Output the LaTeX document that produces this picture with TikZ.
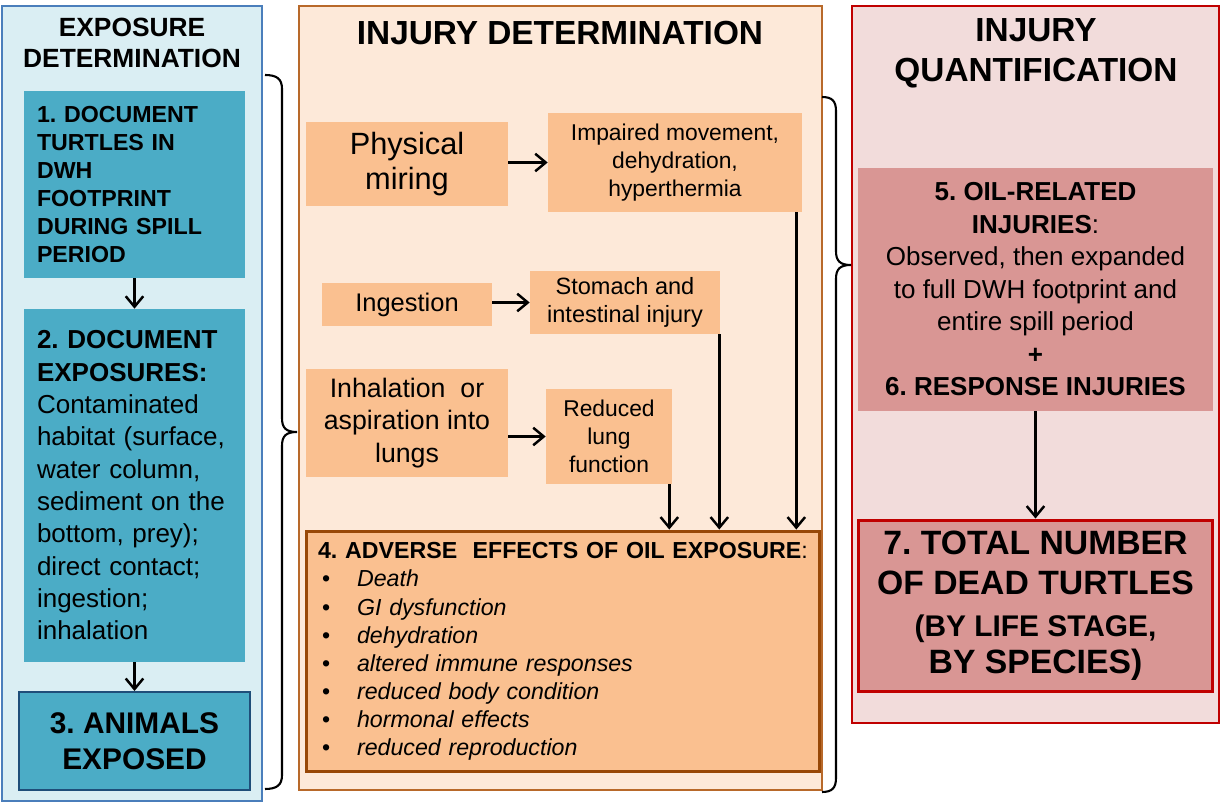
\documentclass[tikz,border=0pt]{standalone}
\usepackage{fontspec}
\setmainfont{Liberation Sans}
\usetikzlibrary{arrows.meta}
\definecolor{lbfill}{HTML}{DAEEF3}
\definecolor{lbdraw}{HTML}{4A7EBB}
\definecolor{teal1}{HTML}{4BACC6}
\definecolor{navy1}{HTML}{1F4E79}
\definecolor{pfill}{HTML}{FDE9D9}
\definecolor{pdraw}{HTML}{B8692A}
\definecolor{peach}{HTML}{FAC090}
\definecolor{brown1}{HTML}{984807}
\definecolor{rfill}{HTML}{F2DCDB}
\definecolor{rdraw}{HTML}{C00000}
\definecolor{rose}{HTML}{D99694}
\newcommand\fs[2]{\fontsize{#1}{#2}\selectfont}
\newcommand\bul[1]{\hspace*{0.08cm}\makebox[0.7cm][l]{•}\textit{#1}}
\hyphenpenalty=10000
\begin{document}
\frenchspacing
\begin{tikzpicture}[x=0.02cm,y=-0.02cm,
  panel/.style={draw, line width=0.8pt, inner sep=0pt},
  tbox/.style={fill=teal1, inner sep=0pt},
  pbox/.style={fill=peach, inner sep=0pt, align=center},
  rbox/.style={fill=rose, inner sep=0pt, align=center},
  title/.style={font=\bfseries, align=center, inner sep=0pt},
  arr/.style={-{Straight Barb[length=6pt,width=10pt,line width=1.4pt]}, line width=1.4pt},
  bline/.style={line width=1.2pt}]
\useasboundingbox (0,0) rectangle (1225,803);

% panels
\node[panel, draw=lbdraw, fill=lbfill, minimum width=5.2cm, minimum height=15.9cm] (lp) at (132,403.5) {};
\node[panel, draw=pdraw, fill=pfill, minimum width=10.46cm, minimum height=15.68cm] (mp) at (560.5,398) {};
\node[panel, draw=rdraw, fill=rfill, minimum width=7.34cm, minimum height=14.34cm] (rp) at (1035.5,364.5) {};

% titles
\node[title, font=\bfseries\fs{15}{17.3}] (lt) at (132,43) {EXPOSURE\\DETERMINATION};
\node[title, font=\bfseries\fs{19}{22}] (mt) at (560,33) {INJURY DETERMINATION};
\node[title, font=\bfseries\fs{19}{22.7}] (rt) at (1036,53) {INJURY\\QUANTIFICATION};

% left column
\node[tbox, minimum width=4.42cm, minimum height=3.74cm, text width=3.9cm, align=left, font=\bfseries\fs{13.2}{16}] (b1) at (134.5,184.5)
 {1. DOCUMENT\\TURTLES IN\\DWH\\FOOTPRINT\\DURING SPILL\\PERIOD};
\node[tbox, minimum width=4.42cm, minimum height=7.06cm, text width=3.9cm, align=left, font=\fs{14.8}{18.4}] (b2) at (134.5,485.5)
 {\textbf{2. DOCUMENT}\\\textbf{EXPOSURES:}\\Contaminated\\habitat (surface,\\water column,\\sediment on the\\bottom, prey);\\direct contact;\\ingestion;\\inhalation};
\node[tbox, draw=navy1, line width=1.2pt, minimum width=4.62cm, minimum height=1.96cm, align=center, font=\bfseries\fs{17}{20.4}] (b3) at (134.5,741)
 {3. ANIMALS\\EXPOSED};
\draw[arr] (b1.south) -- (b2.north);
\draw[arr] (b2.south) -- (b3.north);

% middle column
\node[pbox, minimum width=4.04cm, minimum height=1.68cm, font=\fs{17.5}{20.4}] (phys) at (407,164) {Physical\\miring};
\node[pbox, minimum width=5.08cm, minimum height=1.98cm, font=\fs{13}{15.9}] (imp) at (675,162.5) {Impaired movement,\\dehydration,\\hyperthermia};
\node[pbox, minimum width=3.4cm, minimum height=0.86cm, font=\fs{14.5}{17}] (ing) at (407,304.5) {Ingestion};
\node[pbox, minimum width=3.8cm, minimum height=1.26cm, font=\fs{13.4}{16.4}] (sto) at (625,302.5) {Stomach and\\intestinal injury};
\node[pbox, minimum width=4.04cm, minimum height=2.16cm, font=\fs{15.2}{18.4}] (inh) at (407,423) {Inhalation\ \ or\\aspiration into\\lungs};
\node[pbox, minimum width=2.52cm, minimum height=1.9cm, font=\fs{13}{15.9}] (red) at (609,436.5) {Reduced\\lung\\function};
\node[fill=peach, draw=brown1, line width=1.7pt, inner sep=0pt, minimum width=10.28cm, minimum height=4.82cm, text width=9.8cm, align=left, font=\fs{13.2}{16}] (adv) at (563,651.5)
 {\mbox{\textbf{4. ADVERSE\ \ EFFECTS OF OIL EXPOSURE}:}\\
  \bul{Death}\\
  \bul{GI dysfunction}\\
  \bul{dehydration}\\
  \bul{altered immune responses}\\
  \bul{reduced body condition}\\
  \bul{hormonal effects}\\
  \bul{reduced reproduction}};
\draw[arr] (phys.east |- imp.west) -- (imp.west);
\draw[arr] (ing.east |- sto.west) -- (sto.west);
\draw[arr] (inh.east |- red.west) -- (red.west);
\draw[arr] ([xshift=-0.06cm]red.south east) -- ([xshift=-0.06cm]red.south east |- adv.north);
\draw[arr] ([xshift=-0.02cm]sto.south east) -- ([xshift=-0.02cm]sto.south east |- adv.north);
\draw[arr] ([xshift=-0.12cm]imp.south east) -- ([xshift=-0.12cm]imp.south east |- adv.north);

% right column
\node[rbox, minimum width=7.1cm, minimum height=4.86cm, font=\fs{14.8}{18.5}] (q56) at (1035.5,289.5)
 {\textbf{5. OIL-RELATED}\\\textbf{INJURIES}:\\Observed, then expanded\\to full DWH footprint and\\entire spill period\\\textbf{+}\\\textbf{6. RESPONSE INJURIES}};
\node[rbox, draw=rdraw, line width=1.7pt, minimum width=7.1cm, minimum height=3.44cm, font=\bfseries\fs{19.2}{21}] (q7) at (1035.5,606)
 {7. TOTAL NUMBER\\[1.7pt]OF DEAD TURTLES\\[2.8pt]\fs{17}{21}(BY LIFE STAGE,\\BY SPECIES)};
\draw[arr] (q56.south) -- (q7.north);

% braces
\draw[bline] (265,75) .. controls (277,75) and (282,79) .. (282,89) -- (282,418)
  .. controls (282,428) and (286,432) .. (297,432)
  .. controls (286,432) and (282,436) .. (282,446) -- (282,775)
  .. controls (282,785) and (277,789) .. (265,789);
\draw[bline] (822,97) .. controls (832,97) and (836,101) .. (836,111) -- (836,251)
  .. controls (836,261) and (840,265) .. (851,265)
  .. controls (840,265) and (836,269) .. (836,279) -- (836,778)
  .. controls (836,788) and (832,792) .. (822,792);
\end{tikzpicture}
\end{document}
